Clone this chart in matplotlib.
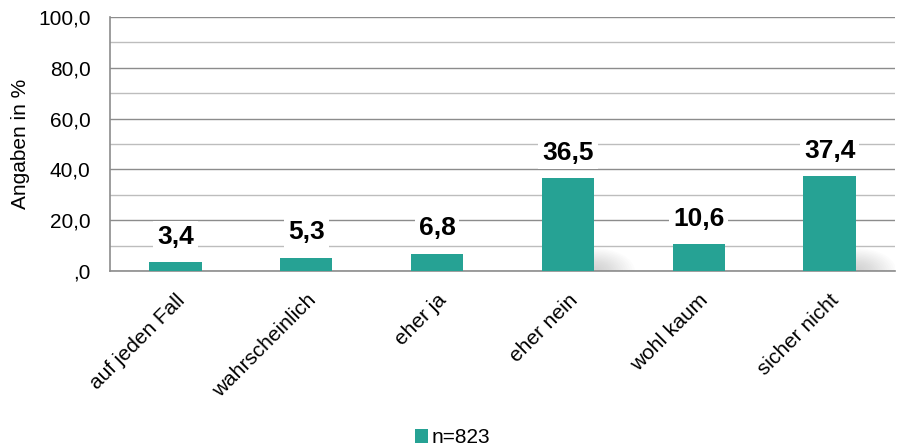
import numpy as np
import matplotlib
matplotlib.use("Agg")
from matplotlib import pyplot as plt
from matplotlib.patches import Patch, Ellipse
from matplotlib.ticker import MultipleLocator, FuncFormatter

plt.rcParams['font.family'] = ['Liberation Sans', 'DejaVu Sans']

categories = ["auf jeden Fall", "wahrscheinlich", "eher ja", "eher nein", "wohl kaum", "sicher nicht"]
values = [3.4, 5.3, 6.8, 36.5, 10.6, 37.4]
series_name = "n=823"

bar_color = "#26a294"


def de_fmt(v, pos=None):
    # excel style: ",0" for zero, comma as decimal sign
    s = "{:.1f}".format(v).replace(".", ",")
    if s.startswith("0,"):
        s = s[1:]
    return s


fig = plt.figure(figsize=(8.97, 4.46), dpi=100)
ax = fig.add_axes([0.1226, 0.3924, 0.8752, 0.5695])

x = np.arange(len(categories))

# soft shadows behind the tall bars
for xi, v in zip(x, values):
    if v < 20:
        continue
    for k in range(16):
        e = Ellipse((xi + 0.2, 0), width=0.62 - k * 0.035, height=18 - k * 1.0,
                    facecolor="#606060", edgecolor="none", alpha=0.014, zorder=1.5)
        ax.add_patch(e)

bars = ax.bar(x, values, width=0.4, color=bar_color, zorder=3)

for xi, v in zip(x, values):
    ax.text(xi, v + 10.0, de_fmt(v), ha="center", va="center", fontsize=19,
            fontweight="bold", color="black", zorder=4,
            bbox=dict(boxstyle="square,pad=0.15", facecolor="white", edgecolor="none"))

ax.set_xlim(-0.5, len(categories) - 0.5)
ax.set_ylim(0, 100)
ax.yaxis.set_major_locator(MultipleLocator(20))
ax.yaxis.set_minor_locator(MultipleLocator(10))
ax.yaxis.set_major_formatter(FuncFormatter(de_fmt))
ax.grid(axis="y", which="major", color="#8c8c8c", linewidth=1.0, zorder=0)
ax.grid(axis="y", which="minor", color="#bdbdbd", linewidth=1.0, zorder=0)
ax.set_axisbelow(True)

ax.set_xticks(x)
ax.set_xticklabels(categories, rotation=45, ha="right", va="top",
                   rotation_mode="anchor", fontsize=15)
ax.tick_params(axis="x", length=0, pad=14)
ax.tick_params(axis="y", which="both", length=0, labelsize=15, pad=14)

for side in ["top", "right"]:
    ax.spines[side].set_visible(False)
ax.spines["left"].set_color("#8c8c8c")
ax.spines["bottom"].set_color("#8c8c8c")
ax.spines["left"].set_linewidth(1.2)
ax.spines["bottom"].set_linewidth(1.2)

ax.set_ylabel("Angaben in %", fontsize=15, labelpad=6)

fig.legend(handles=[Patch(facecolor=bar_color, label=series_name)], loc="lower center",
           bbox_to_anchor=(0.505, -0.045), frameon=False, fontsize=15,
           handlelength=0.6, handleheight=0.6, handletextpad=0.2)

fig.savefig("out.png", dpi=100)
